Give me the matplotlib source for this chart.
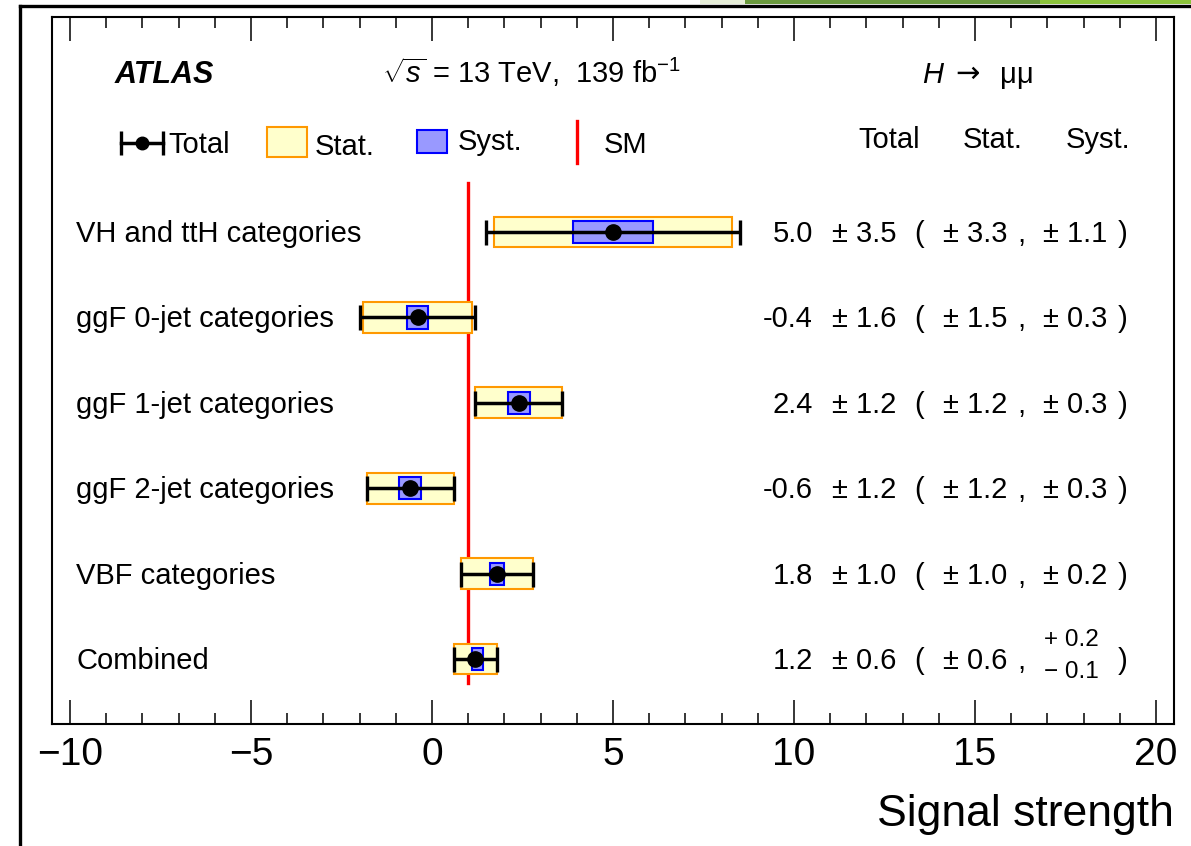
import matplotlib.pyplot as plt
from matplotlib import transforms
from matplotlib.lines import Line2D
from matplotlib.patches import Rectangle
import numpy as np

# signal strength per category: central value, total / stat / syst errors
categories = ['VH and ttH categories', 'ggF 0-jet categories', 'ggF 1-jet categories',
              'ggF 2-jet categories', 'VBF categories', 'Combined']
mu = [5.0, -0.4, 2.4, -0.6, 1.8, 1.2]
err_tot = [3.5, 1.6, 1.2, 1.2, 1.0, 0.6]
err_stat = [3.3, 1.5, 1.2, 1.2, 1.0, 0.6]
syst_up = [1.1, 0.3, 0.3, 0.3, 0.2, 0.2]
syst_dn = [1.1, 0.3, 0.3, 0.3, 0.2, 0.1]
sm_value = 1.0

plt.rcParams['font.family'] = ['Liberation Sans', 'DejaVu Sans']
plt.rcParams['mathtext.fontset'] = 'custom'
plt.rcParams['mathtext.rm'] = 'Liberation Sans'
plt.rcParams['mathtext.it'] = 'Liberation Sans:italic'
plt.rcParams['mathtext.bf'] = 'Liberation Sans:bold'

W, H = 1191, 846
fig = plt.figure(figsize=(W / 100, H / 100), dpi=100)
ax = fig.add_axes([52 / W, 122 / H, 1122 / W, 707 / H])

rows = np.arange(len(categories))[::-1] + 1.0
mu = np.array(mu)
stat = np.array(err_stat)
sup = np.array(syst_up)
sdn = np.array(syst_dn)

# SM reference line behind the boxes
ax.plot([sm_value, sm_value], [0.72, 6.57], color='#ff0000', lw=2.4, zorder=1)

ax.barh(rows, 2 * stat, left=mu - stat, height=0.36, color='#ffffcc',
        edgecolor='#ff9900', lw=1.5, zorder=2)
ax.barh(rows, sup + sdn, left=mu - sdn, height=0.26, color='#9999ff',
        edgecolor='#0000ff', lw=1.5, zorder=3)
ax.errorbar(mu, rows, xerr=err_tot, fmt='o', color='black', ms=11,
            elinewidth=2.5, capsize=9, capthick=2.4, zorder=4)

ax.set_xlim(-10.5, 20.5)
ax.set_ylim(0.239, 8.518)
ax.set_xticks(np.arange(-10, 21, 5))
ax.set_xticks(np.arange(-10, 21, 1), minor=True)
ax.set_yticks([])
ax.tick_params(axis='x', which='both', direction='in', top=True, bottom=True,
               labelsize=28, pad=9, width=1.1)
ax.tick_params(axis='x', which='major', length=17)
ax.tick_params(axis='x', which='minor', length=8)
for sp in ax.spines.values():
    sp.set_linewidth(1.5)

trans = transforms.blended_transform_factory(ax.transAxes, ax.transData)


def fx(px):
    return (px - 52) / 1122


def fy(py):
    return 1 + (659 - py) / 85.4


fs = 21
base = 0.117
for y, name, m, t, s, su, sd in zip(rows, categories, mu, err_tot, stat, sup, sdn):
    ax.text(fx(76), y - base, name, fontsize=fs, transform=trans)
    ax.text(fx(813), y - base, f'{m:.1f}', fontsize=fs, ha='right', transform=trans)
    ax.text(fx(832), y - base, f'± {t:.1f}', fontsize=fs, transform=trans)
    ax.text(fx(914), y - base, '(', fontsize=fs, transform=trans)
    ax.text(fx(943), y - base, f'± {s:.1f}', fontsize=fs, transform=trans)
    ax.text(fx(1017), y - base, ',', fontsize=fs, transform=trans)
    if np.isclose(su, sd):
        ax.text(fx(1043), y - base, f'± {su:.1f}', fontsize=fs, transform=trans)
    else:
        ax.text(fx(1044), y + 0.222, f'+ {su:.1f}', fontsize=17.5, va='center', transform=trans)
        ax.text(fx(1044), y - 0.152, f'− {sd:.1f}', fontsize=17.5, va='center', transform=trans)
    ax.text(fx(1118), y - base, ')', fontsize=fs, transform=trans)

# column headers
for px, lab in [(889, 'Total'), (993, 'Stat.'), (1098, 'Syst.')]:
    ax.text(fx(px), fy(148), lab, fontsize=fs, ha='center', transform=trans)

# header line
ax.text(fx(115), fy(83), 'ATLAS', fontsize=22, fontweight='bold', style='italic',
        transform=trans)
ax.text(fx(382), fy(83), r'$\sqrt{s}$ = 13 TeV,  139 fb$^{\mathregular{-1}}$',
        fontsize=fs, transform=trans)
ax.text(fx(922), fy(83), 'H', fontsize=fs, style='italic', transform=trans)
ax.text(fx(955), fy(82), '→', fontsize=fs, family='DejaVu Sans', transform=trans)
ax.text(fx(1000), fy(83), 'μμ', fontsize=fs, transform=trans)

# legend keys
ly = fy(143)
ax.plot([fx(121), fx(163)], [ly, ly], color='black', lw=2.5, transform=trans)
ax.plot([fx(121), fx(163)], [ly, ly], ls='none', marker='|', ms=17, mew=2.4,
        color='black', transform=trans)
ax.plot([fx(142)], [ly], 'o', color='black', ms=9, transform=trans)
ax.text(fx(168), fy(153), 'Total', fontsize=fs, transform=trans)

ax.add_patch(Rectangle((fx(267), fy(157)), 40 / 1122, 30 / 85.4, facecolor='#ffffcc',
                       edgecolor='#ff9900', lw=1.5, transform=trans))
ax.text(fx(315), fy(155), 'Stat.', fontsize=fs, transform=trans)

ax.add_patch(Rectangle((fx(417), fy(153)), 30 / 1122, 23 / 85.4, facecolor='#9999ff',
                       edgecolor='#0000ff', lw=1.5, transform=trans))
ax.text(fx(458), fy(150), 'Syst.', fontsize=fs, transform=trans)

ax.plot([fx(577), fx(577)], [fy(121), fy(163)], color='#ff0000', lw=2.4, transform=trans)
ax.text(fx(604), fy(153), 'SM', fontsize=fs, transform=trans)

fig.text(1174 / W, 1 - 826 / H, 'Signal strength', fontsize=32, ha='right', va='baseline')

# page frame and slide banner around the figure
fig.add_artist(Line2D([20 / W, 20 / W], [0, 1 - 6 / H], color='black', lw=2.4))
fig.add_artist(Line2D([20 / W, 1], [1 - 6 / H, 1 - 6 / H], color='black', lw=2.4))
fig.add_artist(Rectangle((700 / W, 1 - 4 / H), 45 / W, 4 / H, color='#e6eed8', lw=0))
fig.add_artist(Rectangle((745 / W, 1 - 4 / H), 295 / W, 4 / H, color='#6a9a3e', lw=0))
fig.add_artist(Rectangle((1040 / W, 1 - 4 / H), 151 / W, 4 / H, color='#8cc43c', lw=0))

fig.savefig('out.png', dpi=100)
